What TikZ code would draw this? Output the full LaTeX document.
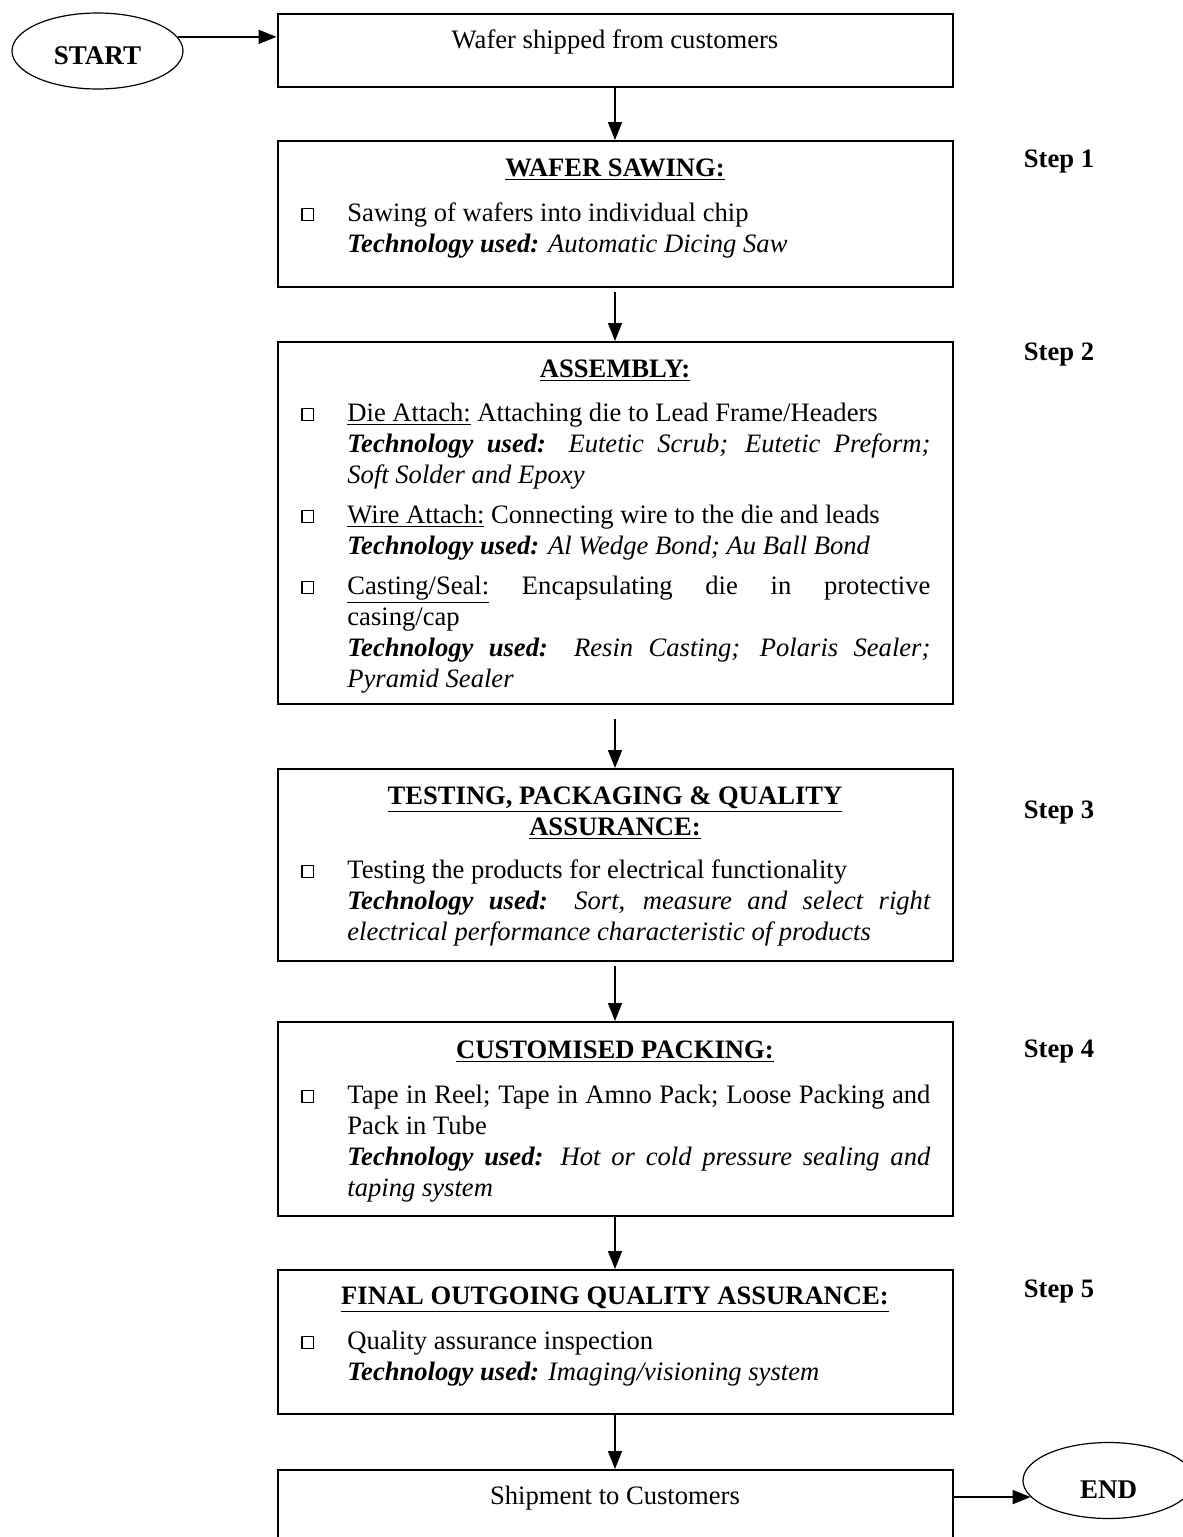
\documentclass[tikz,border=0pt]{standalone}
\usepackage{fontspec}
\setmainfont{Liberation Serif}
\usetikzlibrary{positioning,arrows.meta,shapes.geometric}

\newcommand\sqbox{\raisebox{0.1ex}{\setlength\fboxsep{0pt}\setlength\fboxrule{0.6pt}\fbox{\rule{0pt}{0.4em}\hspace{0.4em}}}}
\newcommand\techused{\textbf{\textit{Technology used:}}}
\newcommand\sqitem[1]{\noindent\hangindent=23pt\hangafter=1\makebox[23pt][l]{\sqbox}#1\par}

\tikzset{
	stepbox/.style={draw, line width=1pt, minimum width=337.5pt, anchor=north, inner sep=0pt},
	arr/.style={-{Triangle[length=9pt,width=7pt]}, line width=0.8pt},
	oval/.style={draw, ellipse, line width=0.6pt, minimum width=85.5pt, minimum height=38pt, inner sep=0pt, font=\fontsize{13.5}{15}\selectfont\bfseries},
	heading/.style={anchor=base, inner sep=0pt, font=\fontsize{13.3}{15.5}\selectfont\bfseries},
	body/.style={anchor=base west, inner sep=0pt, font=\fontsize{13.3}{15.5}\selectfont},
	textline/.style={anchor=base, inner sep=0pt, font=\fontsize{13.3}{15.5}\selectfont},
	steplabel/.style={anchor=base, inner sep=0pt, font=\fontsize{13.3}{15.5}\selectfont\bfseries}
}

\begin{document}
\begin{tikzpicture}[x=0.5pt, y=-0.5pt]
	\useasboundingbox (0,0) rectangle (1183,1537);
	\clip (0,0) rectangle (1183,1537);
	\node[oval, text height=14pt] (start) at (97.5,51) {START};
	\node[oval, text height=18pt] (end) at (1108.5,1480.5) {END};
	\node[stepbox, minimum height=36.5pt] (b0) at (615,13) {};
	\node[stepbox, minimum height=73pt] (b1) at (615,140) {};
	\node[stepbox, minimum height=181pt] (b2) at (615,341) {};
	\node[stepbox, minimum height=96pt] (b3) at (615,768) {};
	\node[stepbox, minimum height=97pt] (b4) at (615,1021) {};
	\node[stepbox, minimum height=72pt] (b5) at (615,1269) {};
	\node[stepbox, minimum height=38pt] (b6) at (615,1469) {};
	\node[textline] (w0) at (615,48) {Wafer shipped from customers};
	\node[textline] (w6) at (615,1504) {Shipment to Customers};
	\node[steplabel] (s1) at (1059,167) {Step 1};
	\node[steplabel] (s2) at (1059,360) {Step 2};
	\node[steplabel] (s3) at (1059,818) {Step 3};
	\node[steplabel] (s4) at (1059,1057) {Step 4};
	\node[steplabel] (s5) at (1059,1297) {Step 5};
	\node[heading] (h1) at (615,176) {\underline{WAFER SAWING:}};
	\node[heading] (h2) at (615,377) {\underline{ASSEMBLY:}};
	\node[heading] (h3) at (615,804) {\begin{tabular}[t]{@{}c@{}}\underline{TESTING, PACKAGING \& QUALITY}\\\underline{ASSURANCE:}\end{tabular}};
	\node[heading] (h4) at (615,1058) {\underline{CUSTOMISED PACKING:}};
	\node[heading] (h5) at (615,1304) {\underline{FINAL OUTGOING QUALITY ASSURANCE:}};
	\node[body] (t1) at (301,221) {\parbox[t]{314.5pt}{%
		\sqitem{Sawing of wafers into individual chip\newline\techused{} \textit{Automatic Dicing Saw}}}};
	\node[body] (t2) at (301,421) {\parbox[t]{314.5pt}{%
		\sqitem{\underline{Die Attach:} Attaching die to Lead Frame/Headers\newline\techused{} \textit{Eutetic Scrub; Eutetic Preform;\linebreak Soft Solder and Epoxy}}
		\vspace{4.5pt}
		\sqitem{\underline{Wire Attach:} Connecting wire to the die and leads\newline\techused{} \textit{Al Wedge Bond; Au Ball Bond}}
		\vspace{4.5pt}
		\sqitem{\underline{Casting/Seal:} Encapsulating die in protective\linebreak casing/cap\newline\techused{} \textit{Resin Casting; Polaris Sealer;\linebreak Pyramid Sealer}}}};
	\node[body] (t3) at (301,878) {\parbox[t]{314.5pt}{%
		\sqitem{Testing the products for electrical functionality\newline\techused{} \textit{Sort, measure and select right\linebreak electrical performance characteristic of products}}}};
	\node[body] (t4) at (301,1103) {\parbox[t]{314.5pt}{%
		\sqitem{Tape in Reel; Tape in Amno Pack; Loose Packing and\linebreak Pack in Tube\newline\techused{} \textit{Hot or cold pressure sealing and\linebreak taping system}}}};
	\node[body] (t5) at (301,1349) {\parbox[t]{314.5pt}{%
		\sqitem{Quality assurance inspection\newline\techused{} \textit{Imaging/visioning system}}}};
	\draw[arr] (start.10) -- (start.10 -| b0.west);
	\draw[arr] (b0) -- (b1);
	\draw[arr, shorten <=2pt] (b1) -- (b2);
	\draw[arr, shorten <=7pt] (b2) -- (b3);
	\draw[arr, shorten <=2pt] (b3) -- (b4);
	\draw[arr] (b4) -- (b5);
	\draw[arr] (b5) -- (b6);
	\draw[arr] (end.192 -| b6.east) -- (end.192);
\end{tikzpicture}
\end{document}
